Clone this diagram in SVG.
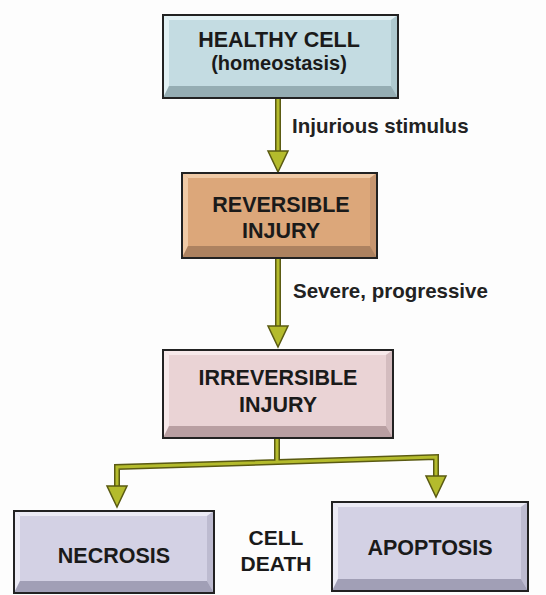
<svg xmlns="http://www.w3.org/2000/svg" width="546" height="595" viewBox="0 0 546 595">
<style>
.frame{stroke:#222;stroke-width:2;}
.bt{font-family:"Liberation Sans",Arial,sans-serif;font-weight:bold;font-size:21.5px;fill:#1a1a1a;text-anchor:middle;}
.lb{font-family:"Liberation Sans",Arial,sans-serif;font-weight:bold;font-size:20.5px;fill:#222;}
.wo{fill:none;stroke:#5a5a12;stroke-width:6;stroke-linejoin:miter;}
.wi{fill:none;stroke:#b4bb2c;stroke-width:3;stroke-linejoin:miter;}
.hd{fill:#b4bb2c;stroke:#5a5a12;stroke-width:1.5;stroke-linejoin:miter;}
.blue .f{fill:#c4dce2}.blue .t{fill:#e2f1f4}.blue .s{fill:#aec8ce}.blue .b{fill:#95adb3}
.tan .f{fill:#dca77a}.tan .t{fill:#f0caa6}.tan .s{fill:#c79670}.tan .b{fill:#ad8260}
.pink .f{fill:#ead3d5}.pink .t{fill:#f7e9ea}.pink .s{fill:#d4bcbf}.pink .b{fill:#b99fa2}
.lav .f{fill:#d3d1e4}.lav .t{fill:#ecebf5}.lav .s{fill:#bdbbd0}.lav .b{fill:#a19fb6}
</style>
<rect width="546" height="595" fill="#fdfdfd"/>

<g id="connectors">
  <path class="wo" d="M278,98 V160 M278,258 V335 M277,438 V461 M117,492 V467 L436,457 V482"/>
  <path class="wi" d="M278,98 V160 M278,258 V335 M277,438 V461 M117,492 V467 L436,457 V482"/>
  <polygon class="hd" points="268,151 288,151 278,172"/>
  <polygon class="hd" points="268,326 288,326 278,347"/>
  <polygon class="hd" points="107,486 127,486 117,507"/>
  <polygon class="hd" points="426,476 446,476 436,497"/>
</g>

<g id="label-injurious"><text class="lb" x="292" y="133">Injurious stimulus</text></g>
<g id="label-severe"><text class="lb" x="293" y="298">Severe, progressive</text></g>

<g id="healthy" class="blue">
  <rect class="f" x="163" y="15" width="235" height="83"/>
  <polygon class="t" points="163,15 398,15 391,20 169,20"/>
  <polygon class="t" points="163,15 169,20 169,86 163,98"/>
  <polygon class="s" points="398,15 398,98 391,86 391,20"/>
  <polygon class="b" points="163,98 398,98 391,86 169,86"/>
  <rect class="frame" x="163" y="15" width="235" height="83" fill="none"/>
  <text class="bt" x="279" y="47">HEALTHY CELL</text>
  <text class="bt" x="279" y="70" style="font-size:20px">(homeostasis)</text>
</g>

<g id="reversible" class="tan">
  <rect class="f" x="182" y="173" width="195" height="85"/>
  <polygon class="t" points="182,173 377,173 370,178 188,178"/>
  <polygon class="t" points="182,173 188,178 188,246 182,258"/>
  <polygon class="s" points="377,173 377,258 370,246 370,178"/>
  <polygon class="b" points="182,258 377,258 370,246 188,246"/>
  <rect class="frame" x="182" y="173" width="195" height="85" fill="none"/>
  <text class="bt" x="281" y="212">REVERSIBLE</text>
  <text class="bt" x="281" y="238">INJURY</text>
</g>

<g id="irreversible" class="pink">
  <rect class="f" x="163" y="350" width="230" height="88"/>
  <polygon class="t" points="163,350 393,350 386,355 169,355"/>
  <polygon class="t" points="163,350 169,355 169,426 163,438"/>
  <polygon class="s" points="393,350 393,438 386,426 386,355"/>
  <polygon class="b" points="163,438 393,438 386,426 169,426"/>
  <rect class="frame" x="163" y="350" width="230" height="88" fill="none"/>
  <text class="bt" x="278" y="385">IRREVERSIBLE</text>
  <text class="bt" x="278" y="412">INJURY</text>
</g>

<g id="necrosis" class="lav">
  <rect class="f" x="14" y="511" width="200" height="82"/>
  <polygon class="t" points="14,511 214,511 207,516 20,516"/>
  <polygon class="t" points="14,511 20,516 20,581 14,593"/>
  <polygon class="s" points="214,511 214,593 207,581 207,516"/>
  <polygon class="b" points="14,593 214,593 207,581 20,581"/>
  <rect class="frame" x="14" y="511" width="200" height="82" fill="none"/>
  <text class="bt" x="114" y="563">NECROSIS</text>
</g>

<g id="cell-death">
  <text class="bt" x="276" y="545" style="font-size:21px">CELL</text>
  <text class="bt" x="276" y="571" style="font-size:21px">DEATH</text>
</g>

<g id="apoptosis" class="lav">
  <rect class="f" x="332" y="502" width="196" height="89"/>
  <polygon class="t" points="332,502 528,502 521,507 338,507"/>
  <polygon class="t" points="332,502 338,507 338,579 332,591"/>
  <polygon class="s" points="528,502 528,591 521,579 521,507"/>
  <polygon class="b" points="332,591 528,591 521,579 338,579"/>
  <rect class="frame" x="332" y="502" width="196" height="89" fill="none"/>
  <text class="bt" x="430" y="555">APOPTOSIS</text>
</g>
</svg>
